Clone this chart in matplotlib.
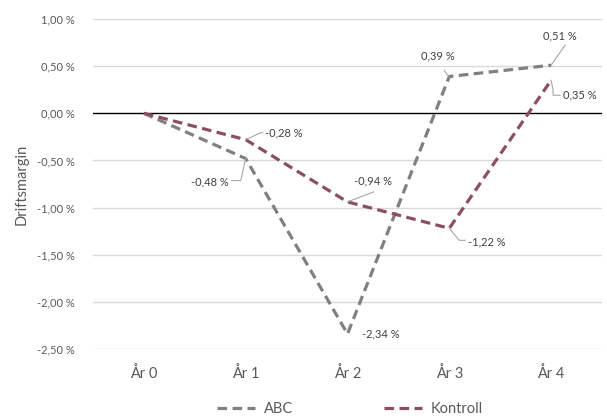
import matplotlib
matplotlib.use("Agg")
import matplotlib.pyplot as plt

# Data
categories = ["År 0", "År 1", "År 2", "År 3", "År 4"]
abc = [0.00, -0.48, -2.34, 0.39, 0.51]
kontroll = [0.00, -0.28, -0.94, -1.22, 0.35]
y_ticks = [1.0, 0.5, 0.0, -0.5, -1.0, -1.5, -2.0, -2.5]

ABC_COLOR = "#808080"
KON_COLOR = "#8C4F62"
LEADER = "#A6A6A6"
TXT = "#595959"
FONT = "Lato"

W, H = 607, 419
fig = plt.figure(figsize=(W / 100, H / 100), dpi=100)
fig.patch.set_facecolor("white")

# plot area in pixel coordinates (left, top, right, bottom)
L, T, R, B = 93, 19, 602, 349
ax = fig.add_axes([L / W, (H - B) / H, (R - L) / W, (B - T) / H])
ax.set_xlim(-0.5, len(categories) - 0.5)
ax.set_ylim(-2.5, 1.0)

for s in ax.spines.values():
    s.set_visible(False)

for v in y_ticks:
    if v == 0:
        continue
    ax.axhline(v, color="#D9D9D9", lw=1.0, zorder=1)
ax.axhline(0, color="black", lw=1.0, zorder=2)

x = list(range(len(categories)))
dash = (0, (3.0, 1.7))
ax.plot(x, abc, color=ABC_COLOR, lw=2.3, ls=dash, dash_capstyle="butt",
        label="ABC", zorder=3)
ax.plot(x, kontroll, color=KON_COLOR, lw=2.3, ls=dash, dash_capstyle="butt",
        label="Kontroll", zorder=3)

ax.set_yticks(y_ticks)
ax.set_yticklabels([f"{v:.2f}".replace(".", ",") + " %" for v in y_ticks])
ax.set_xticks(x)
ax.set_xticklabels(categories)
ax.tick_params(axis="both", length=0)
ax.tick_params(axis="y", pad=13, labelsize=8, labelcolor=TXT)
ax.tick_params(axis="x", pad=12, labelsize=10.5, labelcolor=TXT)
for lab in ax.get_yticklabels() + ax.get_xticklabels():
    lab.set_fontfamily(FONT)

fig.text(22 / W, 1 - 184 / H, "Driftsmargin", rotation=90, ha="center",
         va="center", fontsize=10.5, color=TXT, family=FONT)


def fmt(v):
    return f"{v:.2f}".replace(".", ",") + " %"


def px_to_data(px, py):
    # image pixel (y downwards) -> data coordinates
    disp = (px, H - py)
    return ax.transData.inverted().transform(disp)


def label(i, v, dx, dy, ha, leader=()):
    # dx, dy: text anchor offset in image pixels from the point
    px, py = ax.transData.transform((i, v))
    py = H - py
    tx, ty = px + dx, py + dy
    d = px_to_data(tx, ty)
    ax.text(d[0], d[1], fmt(v), ha=ha, va="center", fontsize=8,
            color="#404040", family=FONT, zorder=5)
    if leader:
        pts = [(px, py)] + [(px + a, py + b) for a, b in leader]
        dd = [px_to_data(a, b) for a, b in pts]
        ax.plot([p[0] for p in dd], [p[1] for p in dd], color=LEADER,
                lw=0.8, zorder=4, clip_on=False)


# ABC labels
label(1, abc[1], -17, 23, "right", [(-5, 22), (-14, 22)])
label(2, abc[2], 14, 0, "left")
label(3, abc[3], -11, -21, "center", [(-3, -3), (-5, -6)])
label(4, abc[4], 9, -29, "center", [(14, -20)])
# Kontroll labels
label(1, kontroll[1], 19, -7, "left", [(15, -7), (17, -7)])
label(2, kontroll[2], 25, -21, "center", [(26, -10)])
label(3, kontroll[3], 19, 14, "left", [(10, 12), (16, 12)])
label(4, kontroll[4], 12, 15, "left", [(2, 10), (2, 15), (9, 15)])

leg = fig.legend(loc="center", bbox_to_anchor=(350 / W, 1 - 409 / H), ncol=2,
                 frameon=False, fontsize=10.5, handlelength=2.6,
                 handletextpad=0.6, columnspacing=6.2,
                 prop={"family": FONT, "size": 10.5})
for t in leg.get_texts():
    t.set_color(TXT)

fig.savefig("out.png", dpi=100, facecolor="white")
